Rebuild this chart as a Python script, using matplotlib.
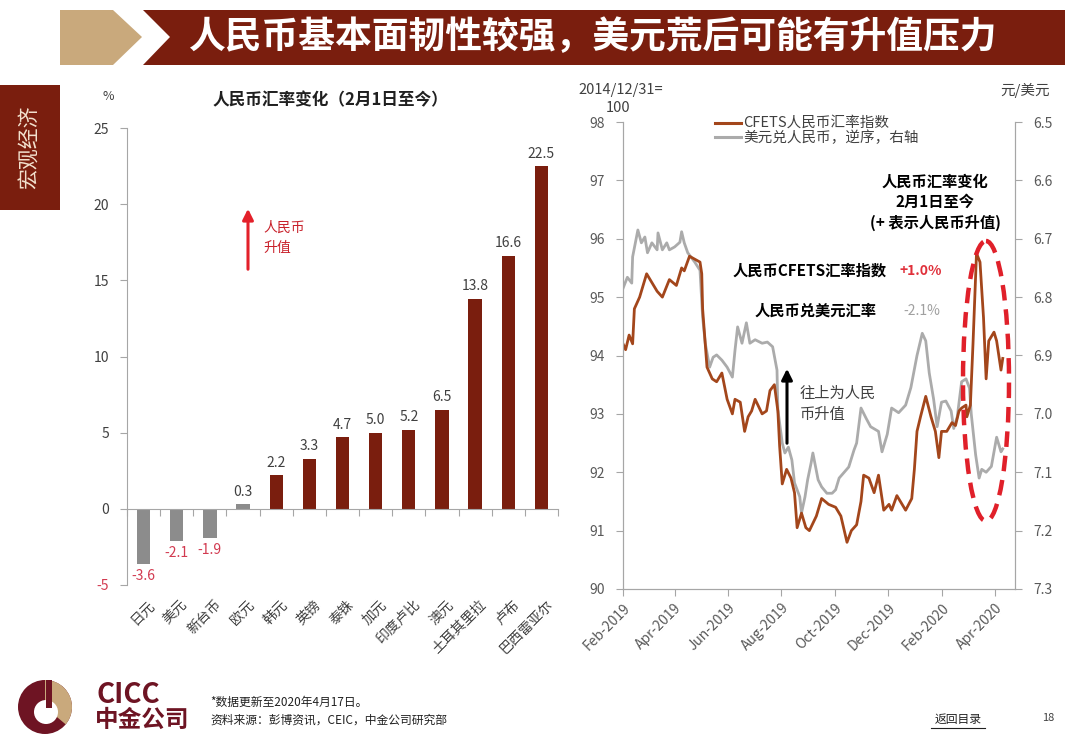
import numpy as np
import pandas as pd
import matplotlib
matplotlib.use('Agg')
import matplotlib.pyplot as plt
import matplotlib.dates as mdates
from matplotlib.patches import Polygon, Rectangle, Ellipse, Circle, Wedge
from matplotlib.ticker import FormatStrFormatter

plt.rcParams['font.family'] = ['Noto Sans CJK SC', 'DejaVu Sans']

# left chart: change since Feb 1 (%), + means RMB appreciation
currencies = ['日元', '美元', '新台币', '欧元', '韩元', '英镑', '泰铢', '加元',
              '印度卢比', '澳元', '土耳其里拉', '卢布', '巴西雷亚尔']
chg = [-3.6, -2.1, -1.9, 0.3, 2.2, 3.3, 4.7, 5.0, 5.2, 6.5, 13.8, 16.6, 22.5]

# right chart: CFETS RMB index (left axis)
cfets_dates = ['2019-02-01', '2019-02-04', '2019-02-08', '2019-02-12', '2019-02-14', '2019-02-20', '2019-02-28', '2019-03-06', '2019-03-12', '2019-03-18',
               '2019-03-26', '2019-04-03', '2019-04-09', '2019-04-12', '2019-04-18', '2019-04-24', '2019-04-30', '2019-05-02', '2019-05-03', '2019-05-06',
               '2019-05-08', '2019-05-14', '2019-05-19', '2019-05-25', '2019-05-31', '2019-06-06', '2019-06-09', '2019-06-15', '2019-06-20', '2019-06-24',
               '2019-06-28', '2019-07-02', '2019-07-10', '2019-07-15', '2019-07-19', '2019-07-24', '2019-07-28', '2019-07-30', '2019-08-02', '2019-08-07',
               '2019-08-12', '2019-08-16', '2019-08-19', '2019-08-24', '2019-08-29', '2019-09-02', '2019-09-10', '2019-09-16', '2019-09-24', '2019-10-02',
               '2019-10-08', '2019-10-15', '2019-10-20', '2019-10-26', '2019-10-31', '2019-11-03', '2019-11-09', '2019-11-15', '2019-11-20', '2019-11-26',
               '2019-12-02', '2019-12-05', '2019-12-11', '2019-12-17', '2019-12-21', '2019-12-28', '2019-12-31', '2020-01-03', '2020-01-07', '2020-01-13',
               '2020-01-19', '2020-01-24', '2020-01-28', '2020-01-31', '2020-02-06', '2020-02-12', '2020-02-16', '2020-02-20', '2020-02-23', '2020-02-28',
               '2020-02-29', '2020-03-04', '2020-03-05', '2020-03-07', '2020-03-11', '2020-03-15', '2020-03-19', '2020-03-22', '2020-03-25', '2020-03-31',
               '2020-04-03', '2020-04-08', '2020-04-10']
cfets = [94.2, 94.1, 94.35, 94.2, 94.8, 95.0, 95.4, 95.25, 95.1, 95.0,
         95.3, 95.2, 95.5, 95.45, 95.7, 95.65, 95.6, 95.4, 94.8, 94.2,
         93.8, 93.6, 93.55, 93.7, 93.25, 93.0, 93.25, 93.2, 92.7, 92.95,
         93.05, 93.25, 93.0, 93.05, 93.4, 93.5, 93.05, 92.45, 91.8, 92.05,
         91.9, 91.65, 91.05, 91.3, 91.05, 91.0, 91.25, 91.55, 91.45, 91.4,
         91.25, 90.8, 91.0, 91.1, 91.5, 91.95, 91.9, 91.65, 91.95, 91.35,
         91.45, 91.35, 91.6, 91.45, 91.35, 91.55, 92.05, 92.7, 92.95, 93.3,
         92.95, 92.7, 92.25, 92.7, 92.7, 92.85, 92.8, 93.05, 93.1, 93.15,
         92.95, 93.15, 93.5, 94.2, 95.75, 95.6, 94.65, 93.6, 94.25, 94.4,
         94.25, 93.75, 93.95]

# USD/CNY (right axis, inverted)
usd_dates = ['2019-02-01', '2019-02-06', '2019-02-11', '2019-02-12', '2019-02-18', '2019-02-22', '2019-02-26', '2019-03-01', '2019-03-06', '2019-03-12',
             '2019-03-13', '2019-03-18', '2019-03-23', '2019-03-26', '2019-04-01', '2019-04-07', '2019-04-09', '2019-04-12', '2019-04-16', '2019-04-24',
             '2019-04-30', '2019-05-03', '2019-05-06', '2019-05-11', '2019-05-15', '2019-05-19', '2019-05-25', '2019-05-31', '2019-06-06', '2019-06-09',
             '2019-06-12', '2019-06-17', '2019-06-22', '2019-06-26', '2019-07-02', '2019-07-10', '2019-07-16', '2019-07-22', '2019-07-27', '2019-07-28',
             '2019-08-02', '2019-08-05', '2019-08-09', '2019-08-13', '2019-08-16', '2019-08-22', '2019-08-24', '2019-08-28', '2019-08-31', '2019-09-04',
             '2019-09-06', '2019-09-12', '2019-09-16', '2019-09-22', '2019-09-28', '2019-10-02', '2019-10-06', '2019-10-17', '2019-10-23', '2019-10-26',
             '2019-10-31', '2019-11-06', '2019-11-11', '2019-11-20', '2019-11-24', '2019-11-30', '2019-12-05', '2019-12-13', '2019-12-21', '2019-12-27',
             '2020-01-03', '2020-01-09', '2020-01-13', '2020-01-17', '2020-01-22', '2020-01-26', '2020-01-31', '2020-02-05', '2020-02-11', '2020-02-14',
             '2020-02-18', '2020-02-23', '2020-02-28', '2020-03-03', '2020-03-05', '2020-03-10', '2020-03-14', '2020-03-17', '2020-03-22', '2020-03-28',
             '2020-04-03', '2020-04-08', '2020-04-10']
usdcny = [6.785, 6.766, 6.776, 6.731, 6.685, 6.707, 6.697, 6.724, 6.707, 6.719,
          6.690, 6.719, 6.707, 6.719, 6.714, 6.706, 6.688, 6.707, 6.724, 6.740,
          6.754, 6.834, 6.879, 6.920, 6.903, 6.899, 6.908, 6.920, 6.937, 6.891,
          6.851, 6.879, 6.844, 6.879, 6.873, 6.879, 6.877, 6.885, 6.925, 6.993,
          7.050, 7.067, 7.057, 7.079, 7.118, 7.142, 7.170, 7.142, 7.113, 7.084,
          7.067, 7.113, 7.125, 7.136, 7.136, 7.130, 7.110, 7.091, 7.062, 7.050,
          6.990, 7.008, 7.022, 7.030, 7.065, 7.035, 6.990, 6.998, 6.985, 6.955,
          6.900, 6.862, 6.875, 6.930, 6.975, 7.022, 6.980, 6.978, 6.995, 7.025,
          7.005, 6.945, 6.940, 6.956, 7.000, 7.070, 7.110, 7.095, 7.100, 7.090,
          7.040, 7.065, 7.060]

DARK = '#7A1E0E'
TAN = '#C9A97C'
BARGRAY = '#8C8C8C'
ORANGE = '#A3461B'
LGRAY = '#ABABAB'
NEGRED = '#D23A50'
AXC = '#A6A6A6'
TXT = '#404040'

W, H = 1080, 754


def box(l, t, r, b):
    return [l / W, 1 - b / H, (r - l) / W, (b - t) / H]


fig = plt.figure(figsize=(10.8, 7.54), dpi=100)
fig.patch.set_facecolor('white')

# ---------- left chart ----------
ax1 = fig.add_axes(box(127, 128, 558, 585))
x = np.arange(len(currencies))
cols = [BARGRAY if v < 1 else DARK for v in chg]
ax1.bar(x, chg, width=0.4, color=cols, zorder=2)
ax1.set_xlim(-0.5, len(currencies) - 0.5)
ax1.set_ylim(-5, 25)
ax1.set_yticks(range(-5, 26, 5), [str(v) for v in range(-5, 26, 5)])
for s in ['top', 'right']:
    ax1.spines[s].set_visible(False)
ax1.spines['bottom'].set_position(('data', 0))
for s in ['left', 'bottom']:
    ax1.spines[s].set_color(AXC)
ax1.set_xticks(np.arange(-0.5, len(currencies), 1))
ax1.set_xticklabels([])
ax1.tick_params(axis='x', direction='out', length=5, color=AXC)
ax1.tick_params(axis='y', direction='out', length=5, color=AXC, labelsize=10, labelcolor=TXT, pad=8)
ax1.get_yticklabels()[0].set_color(NEGRED)
for i, (name, v) in enumerate(zip(currencies, chg)):
    ax1.annotate(name, (i, -5), xytext=(3, -9), textcoords='offset points',
                 rotation=45, ha='right', va='top', rotation_mode='anchor',
                 fontsize=10, color=TXT, annotation_clip=False)
    if v < 0:
        ax1.annotate(f'{v:.1f}', (i, v), xytext=(0, -4), textcoords='offset points',
                     ha='center', va='top', fontsize=10, color=NEGRED)
    else:
        ax1.annotate(f'{v:.1f}', (i, v), xytext=(0, 4), textcoords='offset points',
                     ha='center', va='bottom', fontsize=10, color=TXT)

# ---------- right chart ----------
ax2 = fig.add_axes(box(623, 122, 1015, 589))
ax3 = ax2.twinx()
ax2.set_zorder(ax3.get_zorder() + 1)
ax2.patch.set_visible(False)
ax2.plot(pd.to_datetime(cfets_dates), cfets, color=ORANGE, lw=2.0)
ax3.plot(pd.to_datetime(usd_dates), usdcny, color=LGRAY, lw=2.0)
ax2.set_xlim(pd.Timestamp('2019-02-01'), pd.Timestamp('2020-04-24'))
ax2.set_ylim(90, 98)
ax3.set_ylim(7.3, 6.5)
ax2.set_yticks(range(90, 99))
ax3.set_yticks(np.arange(6.5, 7.31, 0.1))
ax3.yaxis.set_major_formatter(FormatStrFormatter('%.1f'))
ax2.xaxis.set_major_locator(mdates.MonthLocator(bymonth=[2, 4, 6, 8, 10, 12]))
ax2.xaxis.set_major_formatter(mdates.DateFormatter('%b-%Y'))
for a in (ax2, ax3):
    a.spines['top'].set_visible(False)
    for s in ['left', 'right', 'bottom']:
        a.spines[s].set_color(AXC)
    a.tick_params(direction='out', length=5, color=AXC, labelsize=10, labelcolor='#595959')
plt.setp(ax2.get_xticklabels(), rotation=45, ha='right', rotation_mode='anchor')
ax2.tick_params(axis='y', pad=8)
ax3.tick_params(axis='y', pad=8)

# ---------- overlay (page decoration, annotations) ----------
ov = fig.add_axes([0, 0, 1, 1])
ov.set_xlim(0, W)
ov.set_ylim(H, 0)
ov.axis('off')
ov.set_zorder(10)

ov.add_patch(Polygon([(60, 10), (113, 10), (142, 37), (113, 65), (60, 65)], closed=True, color=TAN, lw=0))
ov.add_patch(Polygon([(143, 10), (1065, 10), (1065, 65), (143, 65), (170, 37)], closed=True, color=DARK, lw=0))
ov.text(592, 38, '人民币基本面韧性较强，美元荒后可能有升值压力', color='white', fontsize=26.5,
        fontweight='bold', ha='center', va='center')

ov.add_patch(Rectangle((0, 85), 60, 125, color=DARK, lw=0))
ov.text(30, 147, '宏观经济', color='#F3E2CF', fontsize=15, rotation=90, ha='center', va='center')

# left chart texts
ov.text(108, 97, '%', fontsize=9, color=TXT, ha='center', va='center')
ov.text(330, 100, '人民币汇率变化（2月1日至今）', fontsize=12, color='#202020', ha='center', va='center',
        fontweight='bold')
ov.annotate('', xy=(248, 206), xytext=(248, 272),
            arrowprops=dict(arrowstyle='-|>', color='#E3202A', lw=2.2, mutation_scale=16))
ov.text(263, 228, '人民币', fontsize=10, color='#C8202A', va='center')
ov.text(263, 248, '升值', fontsize=10, color='#C8202A', va='center')

# right chart texts
ov.text(578, 90, '2014/12/31=', fontsize=10.5, color=TXT, va='center')
ov.text(606, 108, '100', fontsize=10.5, color=TXT, va='center')
ov.text(1050, 90, '元/美元', fontsize=10.5, color=TXT, va='center', ha='right')
ov.plot([715, 741], [123, 123], color=ORANGE, lw=2.2)
ov.plot([715, 741], [137, 137], color=LGRAY, lw=2.2)
ov.text(743, 123, 'CFETS人民币汇率指数', fontsize=10.5, color=TXT, va='center')
ov.text(743, 138, '美元兑人民币，逆序，右轴', fontsize=10.5, color=TXT, va='center')

ov.text(935, 182, '人民币汇率变化', fontsize=11, fontweight='bold', ha='center', va='center', color='black')
ov.text(935, 202, '2月1日至今', fontsize=11, fontweight='bold', ha='center', va='center', color='black')
ov.text(935, 223, '(+ 表示人民币升值)', fontsize=11, fontweight='bold', ha='center', va='center', color='black')
ov.text(733, 271, '人民币CFETS汇率指数', fontsize=11, fontweight='bold', va='center', color='black')
ov.text(899, 271, '+1.0%', fontsize=10, fontweight='bold', va='center', color='#E0303A')
ov.text(755, 311, '人民币兑美元汇率', fontsize=11, fontweight='bold', va='center', color='black')
ov.text(903, 311, '-2.1%', fontsize=10, va='center', color='#A0A0A0')

ov.annotate('', xy=(787, 366), xytext=(787, 446),
            arrowprops=dict(arrowstyle='-|>', color='black', lw=2.2, mutation_scale=16))
ov.text(800, 393, '往上为人民', fontsize=11, color=TXT, va='center')
ov.text(800, 414, '币升值', fontsize=11, color=TXT, va='center')

ov.add_patch(Ellipse((986, 381), 46, 280, fill=False, ec='#E0202A', lw=3.2, ls=(0, (3.5, 2))))

# footer logo and notes
ov.add_patch(Circle((45, 707), 27, color='#6E1423', lw=0))
ov.add_patch(Wedge((45, 707), 27, -90, 40, color=TAN, lw=0))
ov.add_patch(Circle((46, 712), 12, color='white', lw=0))
ov.add_patch(Rectangle((46, 680), 6, 28, color='#6E1423', lw=0))
ov.text(96, 695, 'CICC', fontsize=20, fontweight='bold', color='#6E1423', va='center')
ov.text(95, 720, '中金公司', fontsize=17, fontweight='bold', color='#6E1423', va='center')
ov.text(210, 702, '*数据更新至2020年4月17日。', fontsize=8.5, color='#202020', va='center')
ov.text(210, 720, '资料来源：彭博资讯，CEIC，中金公司研究部', fontsize=8.5, color='#202020', va='center')
ov.text(958, 719, '返回目录', fontsize=8.5, color='#202020', va='center', ha='center')
ov.plot([931, 985], [728, 728], color='#202020', lw=0.8)
ov.text(1048, 718, '18', fontsize=8, color='#404040', va='center', ha='center')

fig.savefig('out.png', dpi=100)
